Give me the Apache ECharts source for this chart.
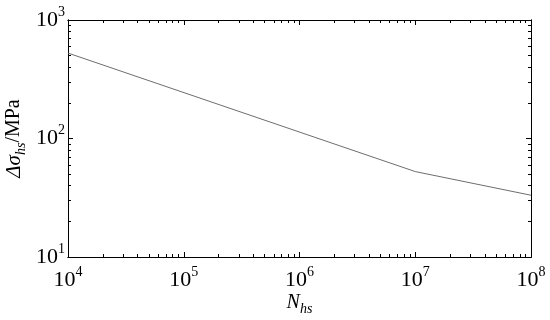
<!DOCTYPE html>
<html>
<head>
<meta charset="utf-8">
<script src="https://cdn.jsdelivr.net/npm/echarts@6/dist/echarts.min.js"></script>
<style>html,body{margin:0;padding:0;background:#fff}#c{width:550px;height:320px}</style>
</head>
<body>
<div id="c"></div>
<script>
// Data
const cycles = [1e4, 1e7, 1e8];
const stressRange = [526, 52.6, 33.2];
const xTickExps = [4, 5, 6, 7, 8];
const yTickExps = [1, 2, 3];

const FONT = 'Liberation Serif';
const majorX = xTickExps.map(e => Math.pow(10, e));
const majorY = yTickExps.map(e => Math.pow(10, e));
function minors(exps) {
  const out = [];
  for (let i = 0; i < exps.length - 1; i++) {
    for (let m = 2; m <= 9; m++) out.push(m * Math.pow(10, exps[i]));
  }
  return out;
}
const minorX = minors(xTickExps);
const minorY = minors(yTickExps);

const labelRich = {
  b: { fontSize: 22, fontFamily: FONT, lineHeight: 22, verticalAlign: 'bottom', color: '#000' },
  s: { fontSize: 14, fontFamily: FONT, lineHeight: 14, padding: [0, 0, 16, 0], color: '#000' }
};
function fmt(v) {
  const e = Math.round(Math.log10(v));
  return '{b|10}{s|' + e + '}';
}

function axisBase(extra) {
  return Object.assign({
    type: 'log', logBase: 10,
    axisLine: { show: true, lineStyle: { color: '#000', width: 1 } },
    splitLine: { show: false },
    minorTick: { show: false }
  }, extra);
}

const xMin = majorX[0], xMax = majorX[majorX.length - 1];
const yMin = majorY[0], yMax = majorY[majorY.length - 1];

const xAxes = [
  axisBase({
    position: 'bottom', min: xMin, max: xMax,
    axisTick: { show: true, inside: true, length: 5, customValues: majorX, lineStyle: { color: '#000' } },
    axisLabel: { show: true, customValues: majorX, margin: 12, formatter: fmt, rich: labelRich },
    name: '{i|N}{sub|hs}', nameLocation: 'middle', nameGap: 36, nameMoveOverlap: false,
    nameTextStyle: {
      rich: {
        i: { fontSize: 20, fontFamily: FONT, fontStyle: 'italic', lineHeight: 20, verticalAlign: 'top', color: '#000' },
        sub: { fontSize: 14, fontFamily: FONT, fontStyle: 'italic', lineHeight: 14, padding: [12, 0, 0, 0], color: '#000' }
      }
    }
  }),
  axisBase({
    position: 'bottom', min: xMin, max: xMax,
    axisTick: { show: true, inside: true, length: 3, customValues: minorX, lineStyle: { color: '#000' } },
    axisLabel: { show: false }
  }),
  axisBase({
    position: 'top', min: xMin, max: xMax,
    axisTick: { show: true, inside: true, length: 5, customValues: majorX, lineStyle: { color: '#000' } },
    axisLabel: { show: false }
  }),
  axisBase({
    position: 'top', min: xMin, max: xMax,
    axisTick: { show: true, inside: true, length: 3, customValues: minorX, lineStyle: { color: '#000' } },
    axisLabel: { show: false }
  })
];

const yAxes = [
  axisBase({
    position: 'left', min: yMin, max: yMax,
    axisTick: { show: true, inside: true, length: 5, customValues: majorY, lineStyle: { color: '#000' } },
    axisLabel: { show: true, customValues: majorY, margin: 3, formatter: fmt, rich: labelRich, padding: [0, 0, 0, 0] },
    name: '{i|Δσ}{sub|hs}{n|/MPa}', nameLocation: 'middle', nameGap: 42, nameMoveOverlap: false,
    nameTextStyle: {
      rich: {
        i: { fontSize: 21, fontFamily: FONT, fontStyle: 'italic', lineHeight: 22, verticalAlign: 'top', color: '#000' },
        sub: { fontSize: 14, fontFamily: FONT, fontStyle: 'italic', lineHeight: 14, padding: [12, 0, 0, 0], color: '#000' },
        n: { fontSize: 20, fontFamily: FONT, lineHeight: 22, verticalAlign: 'top', color: '#000' }
      }
    }
  }),
  axisBase({
    position: 'left', min: yMin, max: yMax,
    axisTick: { show: true, inside: true, length: 3, customValues: minorY, lineStyle: { color: '#000' } },
    axisLabel: { show: false }
  }),
  axisBase({
    position: 'right', min: yMin, max: yMax,
    axisTick: { show: true, inside: true, length: 5, customValues: majorY, lineStyle: { color: '#000' } },
    axisLabel: { show: false }
  }),
  axisBase({
    position: 'right', min: yMin, max: yMax,
    axisTick: { show: true, inside: true, length: 3, customValues: minorY, lineStyle: { color: '#000' } },
    axisLabel: { show: false }
  })
];

const chart = echarts.init(document.getElementById('c'), null, { renderer: 'canvas' });
chart.setOption({
  animation: false,
  backgroundColor: '#fff',
  grid: { left: 68, right: 19, top: 20, bottom: 63, containLabel: false, outerBoundsMode: 'none' },
  xAxis: xAxes,
  yAxis: yAxes,
  series: [{
    type: 'line',
    xAxisIndex: 0, yAxisIndex: 0,
    data: cycles.map((c, i) => [c, stressRange[i]]),
    showSymbol: false,
    lineStyle: { color: '#6e6e6e', width: 1 }
  }]
});
</script>
</body>
</html>
